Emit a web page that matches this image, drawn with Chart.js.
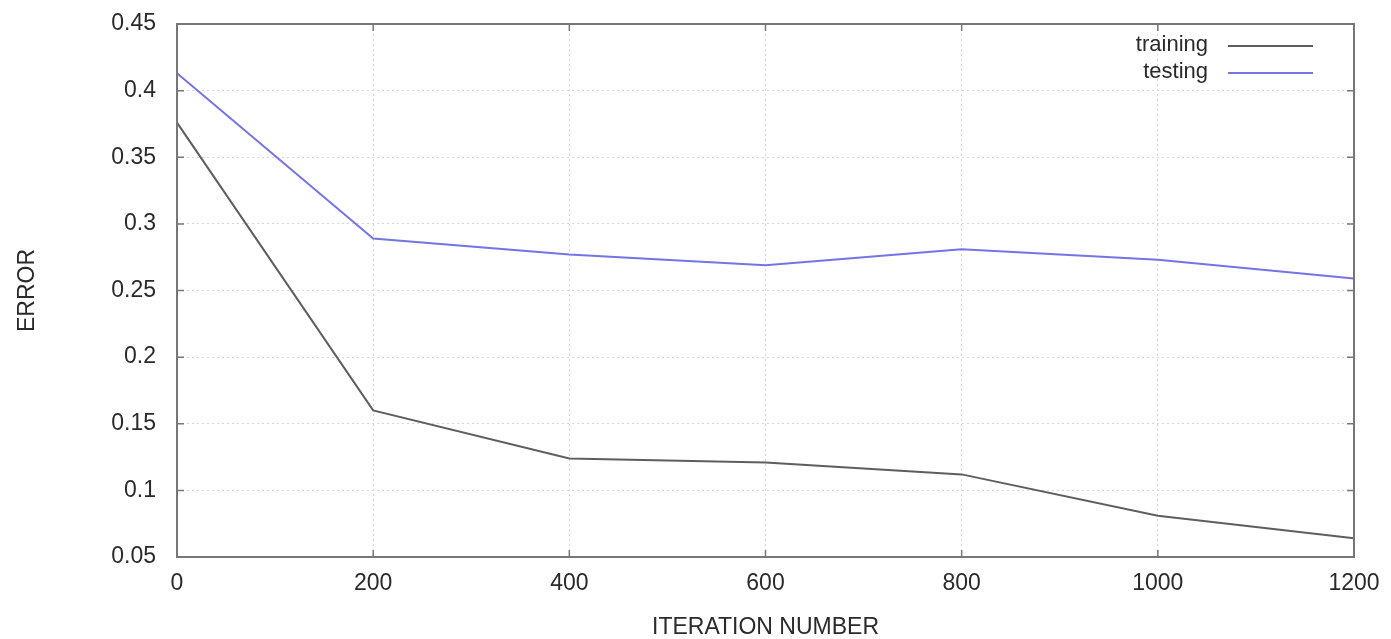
<!DOCTYPE html>
<html>
<head>
<meta charset="utf-8">
<script src="https://cdn.jsdelivr.net/npm/chart.js@4/dist/chart.umd.min.js"></script>
<style>
  html, body { margin: 0; padding: 0; background: #fff; }
  #wrap { width: 1391px; height: 639px; }
</style>
</head>
<body>
<div id="wrap"><canvas id="errChart" width="1391" height="639"></canvas></div>
<script>
const iterations = [0, 200, 400, 600, 800, 1000, 1200];
const trainingError = [0.376, 0.160, 0.124, 0.121, 0.112, 0.081, 0.064];
const testingError = [0.413, 0.289, 0.277, 0.269, 0.281, 0.273, 0.259];
const xTicks = [0, 200, 400, 600, 800, 1000, 1200];
const yTicks = [0.05, 0.1, 0.15, 0.2, 0.25, 0.3, 0.35, 0.4, 0.45];

const FONT = "'Liberation Sans', Arial, sans-serif";
const TEXT = '#2a2a2a';

// frame, inward tick marks and the gnuplot-like legend
const framePlugin = {
    id: 'frame',
    afterDraw(chart) {
        const { ctx, chartArea: a, scales } = chart;
        ctx.save();
        ctx.strokeStyle = '#777';
        ctx.lineWidth = 2;
        ctx.strokeRect(a.left, a.top, a.right - a.left, a.bottom - a.top);
        ctx.lineWidth = 1.5;
        ctx.beginPath();
        xTicks.forEach(v => {
            const x = scales.x.getPixelForValue(v);
            ctx.moveTo(x, a.bottom); ctx.lineTo(x, a.bottom - 7);
            ctx.moveTo(x, a.top); ctx.lineTo(x, a.top + 7);
        });
        yTicks.forEach(v => {
            const y = scales.y.getPixelForValue(v);
            ctx.moveTo(a.left, y); ctx.lineTo(a.left + 7, y);
            ctx.moveTo(a.right, y); ctx.lineTo(a.right - 7, y);
        });
        ctx.stroke();

        // legend
        ctx.font = '22px ' + FONT;
        ctx.textAlign = 'right';
        ctx.textBaseline = 'middle';
        chart.data.datasets.forEach((ds, i) => {
            const y = a.top + 21 + i * 27;
            ctx.fillStyle = TEXT;
            ctx.fillText(ds.label, a.right - 146, y);
            ctx.strokeStyle = ds.borderColor;
            ctx.lineWidth = 2;
            ctx.beginPath();
            ctx.moveTo(a.right - 126, y + 1);
            ctx.lineTo(a.right - 41, y + 1);
            ctx.stroke();
        });
        ctx.restore();
    }
};

new Chart(document.getElementById('errChart'), {
    type: 'line',
    data: {
        labels: iterations,
        datasets: [
            {
                label: 'training',
                data: iterations.map((x, i) => ({ x, y: trainingError[i] })),
                borderColor: '#5e5e5e',
                borderWidth: 2,
                pointRadius: 0,
                tension: 0
            },
            {
                label: 'testing',
                data: iterations.map((x, i) => ({ x, y: testingError[i] })),
                borderColor: '#7474e6',
                borderWidth: 2,
                pointRadius: 0,
                tension: 0
            }
        ]
    },
    options: {
        responsive: false,
        animation: false,
        layout: { padding: { top: 24, right: 37, bottom: 0, left: 0 } },
        plugins: { legend: { display: false }, tooltip: { enabled: false } },
        scales: {
            x: {
                type: 'linear',
                min: 0,
                max: 1200,
                afterBuildTicks: s => { s.ticks = xTicks.map(v => ({ value: v })); },
                afterFit: s => { s.height = 82; s.paddingLeft = 0; s.paddingRight = 0; },
                ticks: {
                    color: TEXT,
                    font: { family: FONT, size: 23 },
                    padding: 13,
                    maxRotation: 0,
                    callback: v => String(v)
                },
                grid: { color: '#d6d6d6', lineWidth: 1, drawTicks: false },
                border: { display: false, dash: [2, 3] },
                title: {
                    display: true,
                    text: 'ITERATION NUMBER',
                    color: TEXT,
                    font: { family: FONT, size: 23, lineHeight: 1 },
                    padding: { top: 10, bottom: 0 }
                }
            },
            y: {
                min: 0.05,
                max: 0.45,
                afterBuildTicks: s => { s.ticks = yTicks.map(v => ({ value: v })); },
                afterFit: s => { s.width = 177; s.paddingTop = 0; s.paddingBottom = 0; },
                ticks: {
                    color: TEXT,
                    font: { family: FONT, size: 23 },
                    padding: 21,
                    callback: v => String(+v.toFixed(2))
                },
                grid: { color: '#d6d6d6', lineWidth: 1, drawTicks: false },
                border: { display: false, dash: [2, 3] },
                title: {
                    display: true,
                    text: 'ERROR',
                    color: TEXT,
                    font: { family: FONT, size: 23, lineHeight: 1 },
                    padding: { top: 16, bottom: 0 }
                }
            }
        }
    },
    plugins: [framePlugin]
});
</script>
</body>
</html>
